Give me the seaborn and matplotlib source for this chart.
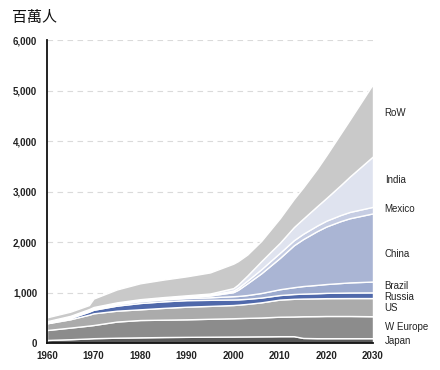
import matplotlib
matplotlib.use("Agg")
import matplotlib.pyplot as plt
import matplotlib.transforms as mtransforms
import seaborn as sns

years = [1960, 1965, 1969, 1970, 1975, 1980, 1985, 1990, 1995, 2000, 2001,
         2003, 2006, 2008, 2010, 2013, 2015, 2018, 2020, 2023, 2025, 2030]

japan    = [60, 75, 90, 95, 105, 112, 118, 122, 125, 128, 129, 130, 132, 133, 135, 135, 100, 95, 95, 95, 95, 95]
w_europe = [197, 230, 255, 261, 320, 343, 344, 347, 355, 362, 364, 368, 373, 380, 386, 390, 430, 437, 440, 440, 440, 435]
us       = [133, 165, 215, 232, 215, 212, 233, 250, 255, 262, 266, 277, 300, 320, 339, 350, 350, 352, 353, 354, 355, 360]
russia   = [5, 25, 60, 70, 100, 125, 130, 130, 120, 110, 105, 100, 95, 92, 90, 95, 98, 102, 105, 108, 110, 112]
brazil   = [15, 18, 22, 25, 30, 35, 38, 42, 50, 65, 68, 75, 90, 102, 115, 135, 150, 165, 175, 190, 200, 215]
china    = [8, 10, 12, 12, 14, 16, 18, 22, 35, 80, 120, 230, 390, 505, 620, 830, 930, 1065, 1140, 1225, 1270, 1350]
mexico   = [5, 6, 7, 8, 9, 10, 11, 12, 15, 30, 40, 55, 80, 92, 100, 100, 105, 110, 115, 121, 125, 130]
india    = [8, 9, 10, 10, 12, 15, 17, 20, 25, 50, 65, 100, 160, 180, 200, 260, 300, 385, 450, 590, 700, 1000]
row      = [78, 82, 79, 167, 255, 314, 346, 375, 417, 483, 463, 415, 400, 441, 485, 555, 617, 739, 847, 1017, 1125, 1433]

series_names = ["Japan", "W Europe", "US", "Russia", "Brazil", "China", "Mexico", "India", "RoW"]
series_vals = [japan, w_europe, us, russia, brazil, china, mexico, india, row]
colors = ["#5a5a5a", "#8c8c8c", "#ababab", "#5069ab", "#9dabcf", "#aab5d4",
          "#c6cde3", "#dfe3ef", "#c9c9c9"]

y_ticks = [0, 1000, 2000, 3000, 4000, 5000, 6000]
x_ticks = [1960, 1970, 1980, 1990, 2000, 2010, 2020, 2030]
unit_label = "百萬人"

# label positions (value units) for right-side series names
label_y = [46, 323, 699, 916, 1134, 1767, 2657, 3230, 4560]

sns.set_style("white")
plt.rcParams["font.family"] = ["Liberation Sans", "DejaVu Sans"]

fig = plt.figure(figsize=(4.4, 3.7), dpi=100)
ax = fig.add_axes([47 / 440, 1 - 343 / 370, 326 / 440, 303 / 370])

ax.stackplot(years, *series_vals, colors=colors, edgecolor="white",
             linewidth=1.0, zorder=2)

ax.set_xlim(1960, 2030)
ax.set_ylim(0, 6000)
ax.set_yticks(y_ticks)
ax.set_yticklabels([f"{v:,}" for v in y_ticks])
ax.set_xticks(x_ticks)
ax.set_xticklabels([str(v) for v in x_ticks])

for v in y_ticks[1:]:
    ax.axhline(v, color="#dadada", lw=0.8, ls=(0, (5, 4)), zorder=1)

for s in ["top", "right"]:
    ax.spines[s].set_visible(False)
for s in ["left", "bottom"]:
    ax.spines[s].set_color("#111111")
    ax.spines[s].set_linewidth(1.3)

ax.tick_params(axis="both", direction="out", colors="#111111", labelsize=7,
               labelcolor="#222222", width=1.0)
ax.tick_params(axis="y", length=4, pad=3)
ax.tick_params(axis="x", length=3, pad=3)
for lab in ax.get_xticklabels() + ax.get_yticklabels():
    lab.set_fontweight("bold")

trans = mtransforms.blended_transform_factory(ax.transAxes, ax.transData)
for name, yv in zip(series_names, label_y):
    ax.text(1.036, yv, name, transform=trans, fontsize=7, color="#222222",
            va="center", ha="left")

fig.text(12 / 440, 1 - 18 / 370, unit_label, fontsize=10.8, va="center",
         ha="left", family=["Noto Sans CJK TC", "DejaVu Sans"], color="#111111")

fig.savefig("out.png", dpi=100)
